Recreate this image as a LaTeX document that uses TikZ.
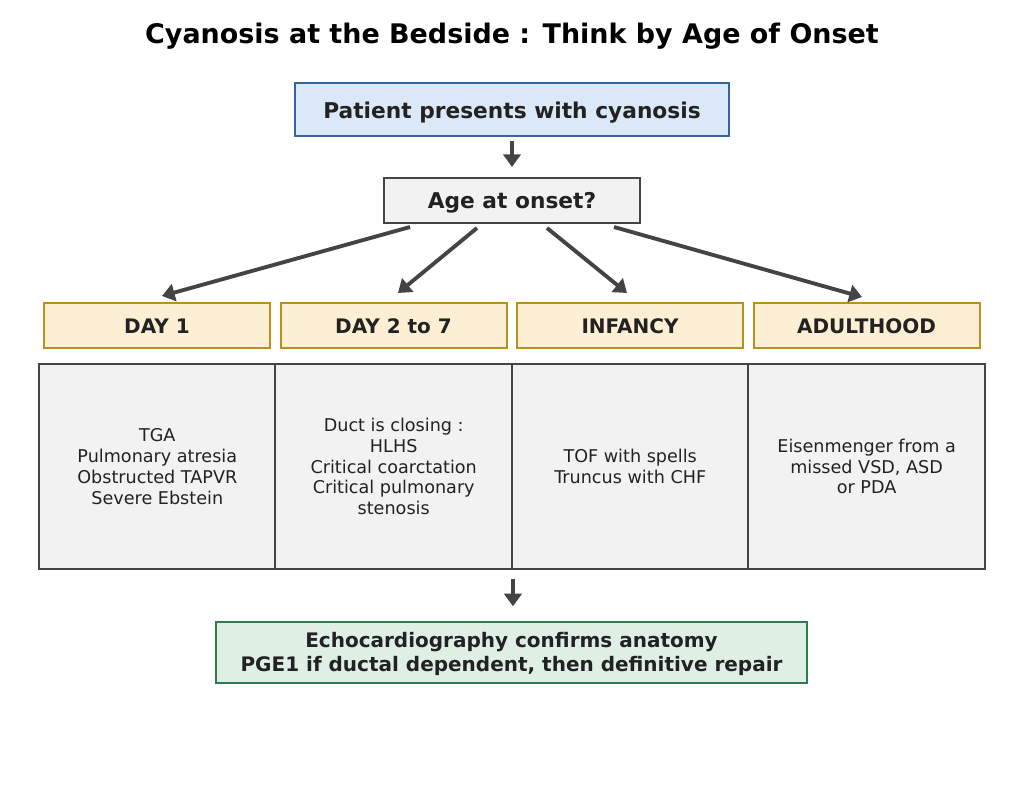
\documentclass[tikz,border=0pt]{standalone}
\usepackage{fontspec}
\setmainfont{DejaVu Sans}
\usetikzlibrary{arrows.meta,calc}
\definecolor{txt}{HTML}{222222}
\definecolor{edge}{HTML}{444444}
\definecolor{greyfill}{HTML}{F2F2F2}
\definecolor{bluefill}{HTML}{DAE8F8}
\definecolor{blueedge}{HTML}{3565A3}
\definecolor{orfill}{HTML}{FCEFD4}
\definecolor{oredge}{HTML}{B8901C}
\definecolor{grfill}{HTML}{DFEFE4}
\definecolor{gredge}{HTML}{2F7D4E}
\newcommand{\dn}[2][1.6pt]{\raisebox{-#1}[\height][\depth]{#2}}
\tikzset{
  box/.style={draw, line width=1.5pt, inner sep=0pt, align=center, text=txt},
  boldA/.style={font=\fontsize{16.3}{19.5}\selectfont\bfseries},
  boldB/.style={font=\fontsize{15}{18}\selectfont\bfseries},
  body/.style={font=\fontsize{13.2}{15.6}\selectfont},
  startbox/.style={box, boldA, fill=bluefill, draw=blueedge, minimum width=325.5pt, minimum height=39.75pt},
  qbox/.style={box, boldA, fill=greyfill, draw=edge, minimum width=192pt, minimum height=33.75pt},
  agebox/.style={box, boldB, fill=orfill, draw=oredge, minimum width=169.5pt, minimum height=33.75pt},
  listbox/.style={box, body, fill=greyfill, draw=edge, minimum width=177.375pt, minimum height=153.75pt},
  endbox/.style={box, boldB, fill=grfill, draw=gredge, minimum width=443.25pt, minimum height=45.75pt},
  arr/.style={draw=edge, line width=2.9pt, -{Triangle[length=9.5pt,width=13pt]}}
}
\begin{document}
\begin{tikzpicture}[x=0.75pt,y=-0.75pt]
\useasboundingbox (0,0) rectangle (1024,797);
\node[font=\fontsize{20.2}{24}\selectfont\bfseries, text=black] (title) at (512,36.5) {Cyanosis at the Bedside : Think by Age of Onset};
\node[startbox] (start) at (512,109.5) {\dn[2.2pt]{Patient presents with cyanosis}};
\node[qbox] (q) at (512,200.5) {\dn{Age at onset?}};
\node[agebox] (a1) at (157,325.5) {\dn[0.8pt]{DAY 1}};
\node[agebox] (a2) at (393.5,325.5) {\dn[0.8pt]{DAY 2 to 7}};
\node[agebox] (a3) at (630,325.5) {\dn[0.8pt]{INFANCY}};
\node[agebox] (a4) at (866.5,325.5) {\dn[0.8pt]{ADULTHOOD}};
\node[listbox] (l1) at (157.3,466.5) {TGA\\Pulmonary atresia\\Obstructed TAPVR\\Severe Ebstein};
\node[listbox] (l2) at (393.7,466.5) {Duct is closing :\\HLHS\\Critical coarctation\\Critical pulmonary\\stenosis};
\node[listbox] (l3) at (630.2,466.5) {TOF with spells\\Truncus with CHF};
\node[listbox] (l4) at (866.6,466.5) {Eisenmenger from a\\missed VSD, ASD\\or PDA};
\node[endbox] (end) at (511.5,652.5) {\dn[1.5pt]{\begin{tabular}{@{}c@{}}Echocardiography confirms anatomy\\PGE1 if ductal dependent, then definitive repair\end{tabular}}};
% connectors
\coordinate (s1) at ($(q.south)+(-102,3)$);
\coordinate (t1) at (162,296);
\coordinate (s2) at ($(q.south)+(-35,4)$);
\coordinate (t2) at (398,293);
\coordinate (s3) at ($(q.south)+(35,4)$);
\coordinate (t3) at (627,293);
\coordinate (s4) at ($(q.south)+(102,3)$);
\coordinate (t4) at (862,297);
\draw[arr, shorten <=3pt, shorten >=7.5pt] (start.south) -- (q.north);
\draw[arr] (s1) -- (t1);
\draw[arr] (s2) -- (t2);
\draw[arr] (s3) -- (t3);
\draw[arr] (s4) -- (t4);
\draw[arr, shorten <=6.75pt, shorten >=11pt] (l2.south east) -- (l2.south east |- end.north);
\end{tikzpicture}
\end{document}
